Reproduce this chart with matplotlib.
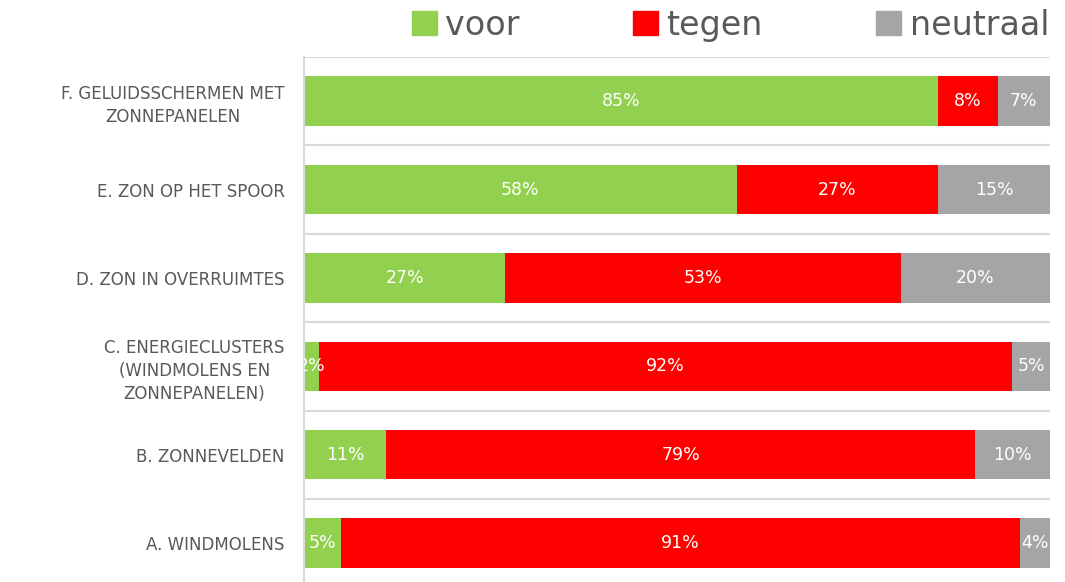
import numpy as np
import matplotlib.pyplot as plt
from matplotlib.patches import Patch

categories = ['A. WINDMOLENS',
              'B. ZONNEVELDEN',
              'C. ENERGIECLUSTERS\n(WINDMOLENS EN\nZONNEPANELEN)',
              'D. ZON IN OVERRUIMTES',
              'E. ZON OP HET SPOOR',
              'F. GELUIDSSCHERMEN MET\nZONNEPANELEN']
voor = [5, 11, 2, 27, 58, 85]
tegen = [91, 79, 92, 53, 27, 8]
neutraal = [4, 10, 5, 20, 15, 7]

series = [('voor', voor, '#92D050'),
          ('tegen', tegen, '#FF0000'),
          ('neutraal', neutraal, '#A5A5A5')]

fig = plt.figure(figsize=(10.65, 5.82), dpi=100)
ax = fig.add_axes([304 / 1065, 0, (1050 - 304) / 1065, 1 - 57 / 582])

y = np.arange(len(categories))
totals = np.array(voor) + np.array(tegen) + np.array(neutraal)
left = np.zeros(len(categories))
for name, vals, col in series:
    w = np.array(vals) / totals * 100
    ax.barh(y, w, left=left, height=0.56, color=col, label=name)
    for yi, li, wi, v in zip(y, left, w, vals):
        ax.text(li + wi / 2, yi, f'{v}%', ha='center', va='center',
                color='white', fontsize=12.5, clip_on=True)
    left += w

ax.set_xlim(0, 100)
ax.set_ylim(-0.44, 5.5)
for b in np.arange(-0.5, 6, 1):
    ax.axhline(b, color='#D9D9D9', lw=1.5, zorder=0)

for s in ['top', 'right', 'bottom']:
    ax.spines[s].set_visible(False)
ax.spines['left'].set_color('#D9D9D9')
ax.spines['left'].set_linewidth(1.5)
ax.set_xticks([])
ax.set_yticks(y)
ax.set_yticklabels(categories, color='#595959', fontsize=12,
                   multialignment='center', linespacing=1.35)
ax.tick_params(axis='y', length=0, pad=14)

handles = [Patch(color=c) for _, _, c in series]
fig.legend(handles, [n for n, _, _ in series], loc='center',
           bbox_to_anchor=(0.686, 0.957), ncol=3, frameon=False,
           fontsize=24, labelcolor='#595959', handlelength=0.75,
           handleheight=0.75, handletextpad=0.25, columnspacing=3.4)

plt.savefig('out.png')
